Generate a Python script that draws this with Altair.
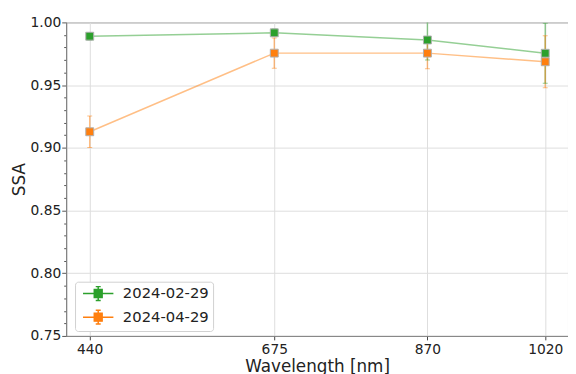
import altair as alt
import pandas as pd

wavelengths = [440, 675, 870, 1020]
series_names = ["2024-02-29", "2024-04-29"]
ssa_feb = [0.989, 0.9917, 0.986, 0.9754]
err_feb = [0.003, 0.003, 0.016, 0.024]
ssa_apr = [0.9128, 0.9755, 0.9755, 0.9686]
err_apr = [0.0125, 0.012, 0.0125, 0.0207]
colors = ["#2ca02c", "#ff7f0e"]
x_ticks = [440, 675, 870, 1020]
y_ticks = [round(0.75 + 0.01 * i, 2) for i in range(26)]

rows = []
for name, vals, errs in [(series_names[0], ssa_feb, err_feb), (series_names[1], ssa_apr, err_apr)]:
    for w, v, e in zip(wavelengths, vals, errs):
        rows.append({"wl": w, "ssa": v, "lo": v - e, "hi": v + e, "date": name})
df = pd.DataFrame(rows)

FONT = "DejaVu Sans"
is_major = "abs(datum.value*20 - round(datum.value*20)) < 0.000001"

xscale = alt.Scale(domain=[410, 1049], nice=False, zero=False)
yscale = alt.Scale(domain=[0.75, 1.0], nice=False, zero=False)

x_axis = alt.Axis(values=x_ticks, format="d", title="Wavelength [nm]",
                  labelFont=FONT, labelFontSize=14, labelColor="#222222",
                  titleFont=FONT, titleFontSize=17, titleFontWeight="normal", titleColor="#222222",
                  tickSize=4, tickColor="#444444", domainColor="#808080",
                  grid=True, gridColor="#dddddd", gridWidth=1,
                  labelPadding=3, titlePadding=2, labelFlush=False)
y_axis = alt.Axis(values=y_ticks, labelExpr=f"{is_major} ? format(datum.value, '.2f') : ''",
                  title="SSA", labelOverlap=False, labelFlush=False,
                  labelFont=FONT, labelFontSize=14, labelColor="#222222",
                  titleFont=FONT, titleFontSize=17, titleFontWeight="normal", titleColor="#222222",
                  tickSize={"condition": {"test": is_major, "value": 4.5}, "value": 2.5},
                  tickColor="#555555", domainColor="#808080",
                  grid=True, gridColor="#dddddd", gridWidth=1,
                  gridOpacity={"condition": {"test": is_major, "value": 1}, "value": 0},
                  labelPadding=1, titlePadding=2)

legend_path = ("M-2.2,0L-0.57,0M0.57,0L2.2,0M0,-1L0,-0.57M0,0.57L0,1"
               "M-0.36,-1L0.36,-1M-0.36,1L0.36,1"
               "M-0.57,-0.57L0.57,-0.57L0.57,0.57L-0.57,0.57Z")

legend = alt.Legend(
    title=None, orient="none", legendX=9, legendY=263,
    symbolType=legend_path, symbolSize=196, symbolStrokeWidth=1.5, symbolOpacity=1,
    symbolOffset=11.5,
    labelFont=FONT, labelFontSize=15, labelColor="#222222",
    labelOffset=17, rowPadding=4, padding=4,
    fillColor="white", strokeColor="#d0d0d0", cornerRadius=3,
)
color = alt.Color("date:N", scale=alt.Scale(domain=series_names, range=colors), legend=legend)
X = alt.X("wl:Q", scale=xscale, axis=x_axis)

err = alt.Chart(df).mark_rule(strokeWidth=1.5, opacity=0.5, clip=True).encode(
    x=X, y=alt.Y("lo:Q", scale=yscale, axis=y_axis), y2="hi:Q", color=color)
cap_lo = alt.Chart(df).mark_tick(orient="horizontal", size=5, thickness=1, opacity=0.5, clip=True).encode(
    x=X, y=alt.Y("lo:Q", scale=yscale, axis=y_axis), color=color)
cap_hi = alt.Chart(df).mark_tick(orient="horizontal", size=5, thickness=1, opacity=0.5, clip=True).encode(
    x=X, y=alt.Y("hi:Q", scale=yscale, axis=y_axis), color=color)
line = alt.Chart(df).mark_line(strokeWidth=1.5, opacity=0.5, clip=True).encode(
    x=X, y=alt.Y("ssa:Q", scale=yscale, axis=y_axis), color=color, order="wl:Q")
pts = alt.Chart(df).mark_point(shape="square", filled=True, size=64, opacity=1,
                               stroke="#b0b0b0", strokeWidth=1, clip=True).encode(
    x=X, y=alt.Y("ssa:Q", scale=yscale, axis=y_axis), color=color)

chart = alt.layer(err, cap_lo, cap_hi, line, pts).properties(
    width=509, height=318,
    autosize=alt.AutoSizeParams(type="none"),
    padding={"left": 59, "top": 12, "right": 0, "bottom": 36},
).configure_view(stroke="#808080", strokeWidth=1)

chart.save("out.html", embed_options={"renderer": "svg", "actions": False})
